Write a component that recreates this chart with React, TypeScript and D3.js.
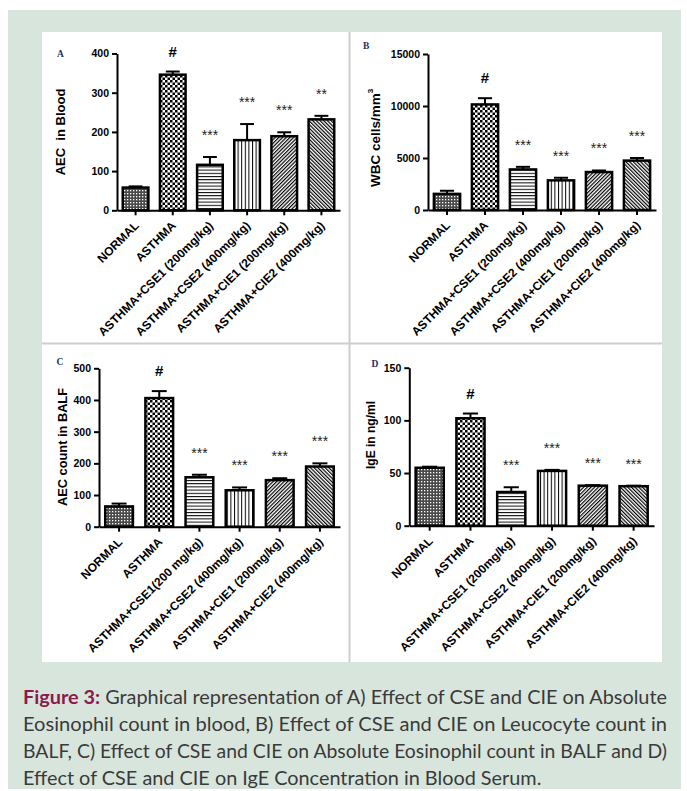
import React, { useEffect, useRef } from "react";
import * as d3 from "d3";

// categories
const groups = [
  "NORMAL",
  "ASTHMA",
  "ASTHMA+CSE1 (200mg/kg)",
  "ASTHMA+CSE2 (400mg/kg)",
  "ASTHMA+CIE1 (200mg/kg)",
  "ASTHMA+CIE2 (400mg/kg)",
];
const groupsC = [
  "NORMAL",
  "ASTHMA",
  "ASTHMA+CSE1(200 mg/kg)",
  "ASTHMA+CSE2 (400mg/kg)",
  "ASTHMA+CIE1 (200mg/kg)",
  "ASTHMA+CIE2 (400mg/kg)",
];

// A) AEC in blood
const aecBlood = [58, 346, 116, 179, 189, 232];
const aecBloodErr = [3, 8, 20, 41, 10, 9];
const aecBloodSig = ["", "#", "***", "***", "***", "**"];
const aecBloodTicks = [0, 100, 200, 300, 400];

// B) WBC cells/mm3
const wbc = [1550, 10150, 3900, 2850, 3650, 4750];
const wbcErr = [300, 600, 250, 250, 150, 250];
const wbcSig = ["", "#", "***", "***", "***", "***"];
const wbcTicks = [0, 5000, 10000, 15000];

// C) AEC count in BALF
const aecBalf = [64, 406, 156, 115, 147, 190];
const aecBalfErr = [9, 22, 8, 9, 6, 10];
const aecBalfSig = ["", "#", "***", "***", "***", "***"];
const aecBalfTicks = [0, 100, 200, 300, 400, 500];

// D) IgE in ng/ml
const ige = [55, 102, 32, 52, 38, 37.5];
const igeErr = [1, 4.5, 4.5, 1, 0.5, 0.5];
const igeSig = ["", "#", "***", "***", "***", "***"];
const igeTicks = [0, 50, 100, 150];

const captionLines = [
  "Graphical representation of A) Effect of CSE and CIE on Absolute",
  "Eosinophil count in blood, B) Effect of CSE and CIE on Leucocyte count in",
  "BALF, C) Effect of CSE and CIE on Absolute Eosinophil count in BALF and D)",
  "Effect of CSE and CIE on IgE Concentration in Blood Serum.",
];

const FONT = "'Liberation Sans', Arial, sans-serif";

const panels = [
  {
    letter: "A", lx: 57, ly: 57,
    groups, values: aecBlood, errors: aecBloodErr, sig: aecBloodSig, ticks: aecBloodTicks,
    left: 117, right: 340, bottom: 210.3, top: 53.5,
    label: ["AEC  in Blood"], labelX: 60, labelY: 132, labelSize: 13,
  },
  {
    letter: "B", lx: 363, ly: 48.5,
    groups, values: wbc, errors: wbcErr, sig: wbcSig, ticks: wbcTicks,
    left: 428, right: 656, bottom: 210, top: 54,
    label: ["WBC cells/mm", "3"], labelX: 375, labelY: 138, labelSize: 13.5,
  },
  {
    letter: "C", lx: 56.5, ly: 365,
    groups: groupsC, values: aecBalf, errors: aecBalfErr, sig: aecBalfSig, ticks: aecBalfTicks,
    left: 99, right: 340, bottom: 526.7, top: 368.3,
    label: ["AEC count in BALF"], labelX: 62, labelY: 447, labelSize: 12.8,
  },
  {
    letter: "D", lx: 371.5, ly: 366.5,
    groups, values: ige, errors: igeErr, sig: igeSig, ticks: igeTicks,
    left: 409.3, right: 654, bottom: 525.7, top: 367.7,
    label: ["IgE in ng/ml"], labelX: 371, labelY: 435, labelSize: 12,
  },
];

const App = () => {
  const svgRef = useRef<SVGSVGElement>(null);

  useEffect(() => {
    const svg = d3.select(svgRef.current);
    svg.selectAll("*").remove();

    // page + figure backgrounds
    svg.append("rect").attr("width", 687).attr("height", 791).attr("fill", "#fff");
    svg.append("rect").attr("x", 8).attr("y", 10).attr("width", 673).attr("height", 779).attr("fill", "#d8e5dc");
    svg.append("rect").attr("x", 42).attr("y", 32).attr("width", 620).attr("height", 630).attr("fill", "#fff");
    svg.append("line").attr("x1", 349.5).attr("x2", 349.5).attr("y1", 32).attr("y2", 662)
      .attr("stroke", "#cdcdcd").attr("stroke-width", 2);
    svg.append("line").attr("x1", 42).attr("x2", 662).attr("y1", 343.5).attr("y2", 343.5)
      .attr("stroke", "#cdcdcd").attr("stroke-width", 2);

    // fill patterns (Prism style)
    const defs = svg.append("defs");
    const pattern = (id, size, transform = null) => {
      const p = defs.append("pattern").attr("id", id)
        .attr("patternUnits", "userSpaceOnUse").attr("width", size).attr("height", size);
      if (transform) p.attr("patternTransform", transform);
      return p;
    };
    let p = pattern("pat0", 3);
    p.append("rect").attr("width", 3).attr("height", 3).attr("fill", "#4a4a4a");
    p.append("rect").attr("x", 1).attr("y", 1).attr("width", 1.3).attr("height", 1.3).attr("fill", "#fff");

    p = pattern("pat1", 5);
    p.append("rect").attr("width", 5).attr("height", 5).attr("fill", "#fff");
    p.append("rect").attr("width", 2.5).attr("height", 2.5).attr("fill", "#000");
    p.append("rect").attr("x", 2.5).attr("y", 2.5).attr("width", 2.5).attr("height", 2.5).attr("fill", "#000");

    p = pattern("pat2", 3.2);
    p.append("rect").attr("width", 3.2).attr("height", 3.2).attr("fill", "#fff");
    p.append("rect").attr("width", 3.2).attr("height", 1).attr("fill", "#000");

    p = pattern("pat3", 3.6);
    p.append("rect").attr("width", 3.6).attr("height", 3.6).attr("fill", "#fff");
    p.append("rect").attr("width", 1).attr("height", 3.6).attr("fill", "#000");

    p = pattern("pat4", 2.6, "rotate(45)");
    p.append("rect").attr("width", 2.6).attr("height", 2.6).attr("fill", "#fff");
    p.append("rect").attr("width", 1.2).attr("height", 2.6).attr("fill", "#000");

    p = pattern("pat5", 2.6, "rotate(-45)");
    p.append("rect").attr("width", 2.6).attr("height", 2.6).attr("fill", "#fff");
    p.append("rect").attr("width", 1.2).attr("height", 2.6).attr("fill", "#000");

    panels.forEach(pn => {
      const x = d3.scaleBand().domain(pn.groups).range([pn.left, pn.right])
        .paddingInner(0.31).paddingOuter(0.155);
      const y = d3.scaleLinear().domain([0, pn.ticks[pn.ticks.length - 1]]).range([pn.bottom, pn.top]);
      const g = svg.append("g");
      const bw = x.bandwidth();

      // error bars (upper only) + significance marks
      pn.values.forEach((v, i) => {
        const cx = x(pn.groups[i]) + bw / 2;
        const top = y(v + pn.errors[i]);
        g.append("line").attr("x1", cx).attr("x2", cx).attr("y1", y(v)).attr("y2", top)
          .attr("stroke", "#000").attr("stroke-width", 2);
        g.append("line").attr("x1", cx - bw * 0.27).attr("x2", cx + bw * 0.27).attr("y1", top).attr("y2", top)
          .attr("stroke", "#000").attr("stroke-width", 2);
        if (pn.sig[i]) {
          const hash = pn.sig[i] === "#";
          g.append("text").attr("x", cx).attr("y", top - (hash ? 15 : 17))
            .attr("text-anchor", "middle")
            .attr("font-family", FONT)
            .attr("font-size", hash ? 15 : 14)
            .attr("font-weight", hash ? "bold" : "normal")
            .attr("fill", hash ? "#000" : "#222")
            .text(pn.sig[i]);
        }
      });

      // bars
      g.selectAll("rect.bar").data(pn.values).join("rect")
        .attr("class", "bar")
        .attr("x", (d, i) => x(pn.groups[i]))
        .attr("y", d => y(d))
        .attr("width", bw)
        .attr("height", d => y(0) - y(d))
        .attr("fill", (d, i) => `url(#pat${i})`)
        .attr("stroke", "#000")
        .attr("stroke-width", 2.5);

      // y axis
      const ya = g.append("g").attr("transform", `translate(${pn.left},0)`)
        .call(d3.axisLeft(y).tickValues(pn.ticks).tickSize(5).tickSizeOuter(0).tickPadding(3).tickFormat(d3.format("d")));
      ya.selectAll("path, line").attr("stroke", "#000").attr("stroke-width", 2);
      ya.selectAll("text").attr("fill", "#000").attr("font-family", FONT)
        .attr("font-weight", "bold").attr("font-size", 10.5);

      // x axis
      const xa = g.append("g").attr("transform", `translate(0,${pn.bottom})`)
        .call(d3.axisBottom(x).tickSize(5).tickSizeOuter(0));
      xa.selectAll("path, line").attr("stroke", "#000").attr("stroke-width", 2);
      xa.selectAll("text")
        .attr("fill", "#000").attr("font-family", FONT)
        .attr("font-weight", "bold").attr("font-size", 12)
        .attr("text-anchor", "end")
        .attr("x", 4).attr("y", 16).attr("dy", 0)
        .attr("transform", "rotate(-45, 4, 16)");

      // y label
      const lab = svg.append("text")
        .attr("transform", `translate(${pn.labelX},${pn.labelY}) rotate(-90)`)
        .attr("text-anchor", "middle")
        .attr("dominant-baseline", "central")
        .attr("font-family", FONT).attr("font-weight", "bold").attr("font-size", pn.labelSize)
        .style("white-space", "pre");
      lab.append("tspan").text(pn.label[0]);
      if (pn.label[1]) lab.append("tspan").attr("dy", -5).attr("font-size", 8).text(pn.label[1]);

      // panel letter
      svg.append("text").attr("x", pn.lx).attr("y", pn.ly)
        .attr("font-family", "'Liberation Serif', 'Times New Roman', serif")
        .attr("font-weight", "bold").attr("font-size", 9.5).attr("fill", "#1d2f5f")
        .text(pn.letter);
    });

    // caption
    const cap = svg.append("g");
    const baselines = [704, 731, 758, 785];
    const nodes = captionLines.map((line, i) => {
      const t = cap.append("text").attr("x", 23).attr("y", baselines[i])
        .attr("font-family", "Lato, 'Open Sans', sans-serif").attr("font-size", 19.5)
        .attr("fill", "#3a3a3a").style("white-space", "pre");
      if (i === 0) {
        t.append("tspan").attr("fill", "#8c1a4b").attr("font-weight", "bold").text("Figure 3:");
        t.append("tspan").text(" " + line);
      } else {
        t.text(line);
      }
      return t;
    });
    const widths = nodes.map(t => (t.node() as SVGTextElement).getComputedTextLength());
    const k = 644 / widths[0];
    nodes.forEach((t, i) => {
      t.attr("textLength", i < 3 ? 644 : widths[i] * k).attr("lengthAdjust", "spacingAndGlyphs");
    });
  }, []);

  return (
    <div style={{ position: "absolute", left: 0, top: 0 }}>
      <svg ref={svgRef} width={687} height={791} style={{ display: "block" }}></svg>
    </div>
  );
};

export default App;
